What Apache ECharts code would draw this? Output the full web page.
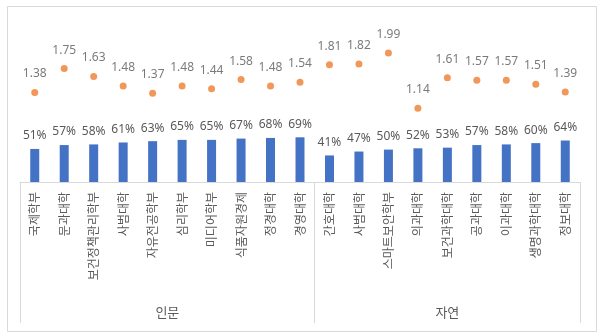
<!DOCTYPE html>
<html><head><meta charset="utf-8">
<script src="https://cdn.jsdelivr.net/npm/echarts@6/dist/echarts.min.js"></script>
<style>html,body{margin:0;padding:0;background:#fff}#c{width:600px;height:335px}</style>
</head><body><div id="c"></div>
<script>
const categories = ['국제학부','문과대학','보건정책관리학부','사범대학','자유전공학부','심리학부','미디어학부','식품자원경제','정경대학','경영대학',
  '간호대학','사범대학','스마트보안학부','의과대학','보건과학대학','공과대학','이과대학','생명과학대학','정보대학'];
const groupNames = ['인문','자연'];
const groupBounds = [0, 10, 19];
const barPercent = [51,57,58,61,63,65,65,67,68,69,41,47,50,52,53,57,58,60,64];
const dotValues = [1.38,1.75,1.63,1.48,1.37,1.48,1.44,1.58,1.48,1.54,1.81,1.82,1.99,1.14,1.61,1.57,1.57,1.51,1.39];

const groupCenters = [];
for (let g = 0; g < groupNames.length; g++) groupCenters.push((groupBounds[g] + groupBounds[g+1]) / 2);

const txt = '#595959';
const font = 'Noto Sans, Noto Sans CJK KR, sans-serif';
const chart = echarts.init(document.getElementById('c'));
chart.setOption({
  animation: false,
  textStyle: { fontFamily: font },
  graphic: [{ type: 'rect', left: 5, top: 4, shape: { width: 589, height: 325 }, style: { fill: 'none', stroke: '#d9d9d9', lineWidth: 1 } }],
  grid: { left: 20, right: 20, top: 20, bottom: 153 },
  xAxis: [{
    type: 'category', data: categories, position: 'bottom',
    axisLine: { show: true, lineStyle: { color: '#d9d9d9' } },
    axisTick: { show: false },
    axisLabel: { rotate: 90, color: txt, fontSize: 12, margin: 10, interval: 0, fontFamily: 'Noto Sans CJK KR' }
  }, {
    type: 'value', min: 0, max: categories.length, position: 'bottom',
    axisLine: { show: false },
    splitLine: { show: false },
    axisTick: { show: true, customValues: groupBounds, length: 141, lineStyle: { color: '#d9d9d9' } },
    axisLabel: { show: true, customValues: groupCenters, margin: 124, color: txt, fontSize: 13, fontFamily: 'Noto Sans CJK KR',
      formatter: function (v) { const i = groupCenters.indexOf(v); return i >= 0 ? groupNames[i] : ''; } }
  }],
  yAxis: { type: 'value', min: 0, max: 2.5, show: false, splitLine: { show: false } },
  series: [{
    type: 'bar', data: barPercent.map(v => v / 100), barWidth: 9,
    itemStyle: { color: '#4472C4' },
    label: { show: true, position: 'top', distance: 7, color: txt, fontSize: 12, formatter: p => Math.round(p.value * 100) + '%' }
  }, {
    type: 'scatter', data: dotValues, symbolSize: 7,
    itemStyle: { color: '#ED7D31' },
    label: { show: true, position: 'top', distance: 9, color: txt, fontSize: 12, formatter: p => p.value.toFixed(2) }
  }]
});
</script></body></html>
